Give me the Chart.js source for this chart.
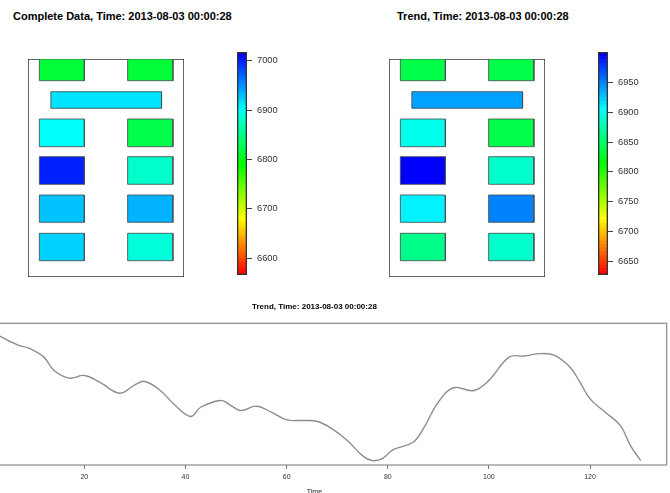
<!DOCTYPE html>
<html>
<head>
<meta charset="utf-8">
<script src="https://cdn.jsdelivr.net/npm/chart.js@4.4.1/dist/chart.umd.min.js"></script>
<style>
  body { margin:0; width:670px; height:493px; overflow:hidden; background:#fff; position:relative;
         font-family:"Liberation Sans", Arial, Helvetica, sans-serif; }
  .ttl { position:absolute; font-weight:bold; font-size:11px; line-height:13px; color:#000; white-space:nowrap; }
  canvas { position:absolute; }
</style>
</head>
<body>
<div class="ttl" style="left:13px;top:10px">Complete Data, Time: 2013-08-03 00:00:28</div>
<div class="ttl" style="left:397px;top:10px">Trend, Time: 2013-08-03 00:00:28</div>

<canvas id="planLeft" width="164" height="226" style="left:24px;top:55px"></canvas>
<canvas id="barLeft" width="65" height="233" style="left:232px;top:47px"></canvas>
<canvas id="planRight" width="164" height="226" style="left:385px;top:55px"></canvas>
<canvas id="barRight" width="65" height="233" style="left:593px;top:47px"></canvas>
<canvas id="trendChart" width="722" height="205" style="left:-50px;top:295px"></canvas>

<script>
// room outline and sensor boxes (floor plan units)
const roomWidth = 15.5;
const roomDepth = 21.8;
const cellX0 = [1.13, 9.9, 2.27, 1.13, 9.9, 1.13, 9.9, 1.13, 9.9, 1.13, 9.9];
const cellX1 = [5.6, 14.4, 13.27, 5.6, 14.4, 5.6, 14.4, 5.6, 14.4, 5.6, 14.4];
const cellY0 = [0, 0, 3.27, 6.0, 6.0, 9.77, 9.77, 13.6, 13.6, 17.43, 17.43];
const cellY1 = [2.17, 2.17, 4.93, 8.77, 8.77, 12.53, 12.53, 16.33, 16.33, 20.17, 20.17];

// sensor values
const completeValues = [6818, 6818, 6918, 6898, 6822, 7000, 6879, 6929, 6938, 6924, 6890];
const trendValues    = [6840, 6840, 6939, 6901, 6840, 7001, 6889, 6908, 6954, 6861, 6890];

// colour scale ranges and tick labels
const completeRange = [6566, 7018];
const trendRange = [6626.5, 7001.4];
const completeTicks = [6600, 6700, 6800, 6900, 7000];
const trendTicks = [6650, 6700, 6750, 6800, 6850, 6900, 6950];

// trend over time
const timeValues = [1, 3, 7, 9, 12, 14, 17, 20, 23, 27, 30, 32, 35, 38, 41, 43, 47, 49, 51, 54, 57, 60, 63, 66,
  69, 72, 75, 77, 79, 81, 85, 87, 90, 93, 97, 100, 104, 107, 110, 113, 116, 118, 120, 123, 126, 128, 130];
const trendSeries = [6879.8, 6874.5, 6867.0, 6865.0, 6858.2, 6848.2, 6842.5, 6844.5, 6839.5, 6831.2, 6837.5,
  6840.0, 6833.2, 6822.0, 6813.8, 6820.7, 6825.8, 6822.0, 6818.2, 6821.5, 6817.0, 6811.3, 6810.8, 6810.2,
  6804.5, 6795.8, 6784.5, 6780.8, 6782.5, 6788.8, 6794.5, 6804.5, 6824.5, 6835.3, 6833.2, 6840.8, 6858.2,
  6859.0, 6860.8, 6859.5, 6850.8, 6839.5, 6827.0, 6817.0, 6807.0, 6792.0, 6780.8];
const timeTicks = [20, 40, 60, 80, 100, 120];

const nColors = 64;

function rampColor(v, range) {
  let k = Math.floor((v - range[0]) / (range[1] - range[0]) * nColors);
  k = Math.max(0, Math.min(nColors - 1, k));
  return 'hsl(' + (k / (nColors - 1) * 240) + ',100%,50%)';
}

function boxPoints(x0, x1, y0, y1) {
  return [{x:x0,y:y0},{x:x1,y:y0},{x:x1,y:y1},{x:x0,y:y1},{x:x0,y:y0}];
}

function drawPlan(id, values, range) {
  const sets = values.map((v, i) => ({
    data: boxPoints(cellX0[i], cellX1[i], cellY0[i], cellY1[i]),
    backgroundColor: rampColor(v, range),
    borderColor: 'rgba(70,80,80,0.85)',
    borderWidth: 1,
    fill: 'shape',
    pointRadius: 0,
    tension: 0
  }));
  sets.push({
    data: boxPoints(0, roomWidth, 0, roomDepth),
    borderColor: '#333',
    borderWidth: 1.5,
    fill: false,
    pointRadius: 0,
    tension: 0
  });
  new Chart(document.getElementById(id), {
    type: 'scatter',
    data: { datasets: sets },
    options: {
      responsive: false,
      animation: false,
      showLine: true,
      layout: { padding: 4 },
      plugins: { legend: { display: false }, tooltip: { enabled: false } },
      scales: {
        x: { type: 'linear', min: 0, max: roomWidth, display: false },
        y: { type: 'linear', min: 0, max: roomDepth, reverse: true, display: false }
      }
    }
  });
}

function drawColorBar(id, range, tickList) {
  const sets = [];
  for (let k = nColors - 1; k >= 0; k--) {
    const a = range[0] + (range[1] - range[0]) * k / nColors;
    sets.push({
      data: [[a, range[1]]],
      backgroundColor: rampColor(a + 0.001, range),
      borderWidth: 0,
      grouped: false,
      barPercentage: 1,
      categoryPercentage: 1
    });
  }
  sets.unshift({
    data: [[range[0], range[1]]],
    backgroundColor: 'rgba(0,0,0,0)',
    borderColor: '#333',
    borderWidth: 1,
    borderSkipped: false,
    grouped: false,
    barPercentage: 1,
    categoryPercentage: 1
  });
  new Chart(document.getElementById(id), {
    type: 'bar',
    data: { labels: ['z'], datasets: sets },
    options: {
      responsive: false,
      animation: false,
      layout: { padding: { left: 5, top: 5, bottom: 5, right: 0 } },
      plugins: { legend: { display: false }, tooltip: { enabled: false } },
      scales: {
        x: { display: false },
        y: {
          position: 'right',
          min: range[0],
          max: range[1],
          afterBuildTicks: (s) => { s.ticks = tickList.map(v => ({ value: v })); },
          afterFit: (s) => { s.width = 50; s.paddingTop = 0; s.paddingBottom = 0; },
          border: { display: false },
          grid: { drawOnChartArea: false, drawTicks: true, tickLength: 5, color: '#444' },
          ticks: { color: '#333', padding: 5, callback: (v) => String(v),
                   font: { size: 9.3, family: '"Liberation Sans", Arial' } }
        }
      }
    }
  });
}

drawPlan('planLeft', completeValues, completeRange);
drawPlan('planRight', trendValues, trendRange);
drawColorBar('barLeft', completeRange, completeTicks);
drawColorBar('barRight', trendRange, trendTicks);

const boxFrame = {
  id: 'boxFrame',
  afterDraw(chart) {
    const a = chart.chartArea, c = chart.ctx;
    c.save();
    c.strokeStyle = '#8a8a8a';
    c.lineWidth = 1.2;
    c.strokeRect(a.left, a.top, a.right - a.left, a.bottom - a.top);
    c.restore();
  }
};

new Chart(document.getElementById('trendChart'), {
  type: 'scatter',
  data: {
    datasets: [{
      data: timeValues.map((t, i) => ({ x: t, y: trendSeries[i] })),
      showLine: true,
      borderColor: '#8c8c8c',
      borderWidth: 1.4,
      pointRadius: 0,
      tension: 0.4,
      fill: false
    }]
  },
  options: {
    responsive: false,
    animation: false,
    layout: { padding: { left: 12.2, right: 5.3, top: 0, bottom: 0 } },
    plugins: {
      legend: { display: false },
      tooltip: { enabled: false },
      title: {
        display: true,
        fullSize: false,
        text: 'Trend, Time: 2013-08-03 00:00:28',
        color: '#000',
        font: { size: 8, weight: 'bold', family: '"Liberation Sans", Arial' },
        padding: { top: 7.2, bottom: 11.5 }
      }
    },
    scales: {
      x: {
        type: 'linear',
        min: -4.16,
        max: 135.16,
        afterBuildTicks: (s) => { s.ticks = timeTicks.map(v => ({ value: v })); },
        afterFit: (s) => { s.height = 35; },
        border: { display: false },
        grid: { drawOnChartArea: false, drawTicks: true, tickLength: 4, color: '#777' },
        ticks: { color: '#333', padding: 4, maxRotation: 0, font: { size: 7, family: '"Liberation Sans", Arial' } },
        title: { display: true, text: 'Time', color: '#222', padding: { top: 0, bottom: 4.1 },
                 font: { size: 7, family: '"Liberation Sans", Arial' } }
      },
      y: { display: false, min: 6777.5, max: 6883.5 }
    }
  },
  plugins: [boxFrame]
});
</script>
</body>
</html>
